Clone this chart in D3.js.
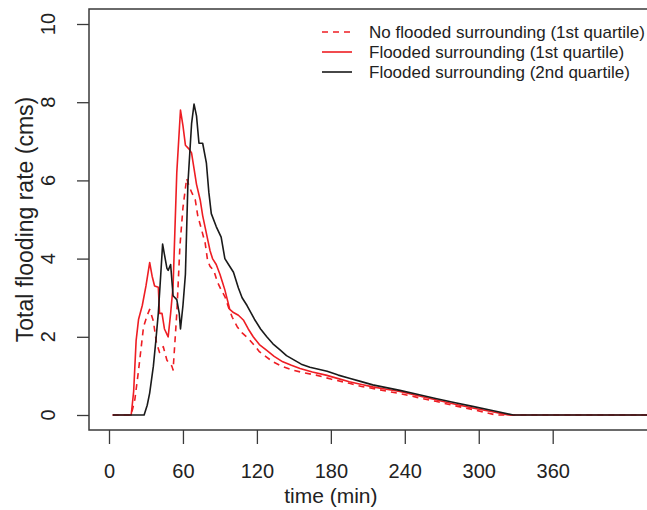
<!DOCTYPE html>
<html>
<head>
<meta charset="utf-8">
<script src="https://cdn.jsdelivr.net/npm/d3@7"></script>
<style>
  body { margin: 0; background: #fff; }
  text { font-family: "Liberation Sans", Arial, sans-serif; fill: #222; }
</style>
</head>
<body>
<div id="dataviz"></div>
<script>
// time (min), total flooding rate (cms)
const noFlooded1st = [
  [3,0],[18,0],[21,0.4],[24,1.15],[28,2.25],[31,2.55],[33,2.7],[36,2.4],[38.5,1.85],[41,1.6],
  [44,1.75],[47,1.4],[51,1.25],[52,1.15],[55,2.6],[57.5,4.3],[60,5.3],[62,5.8],[63,6.05],[65,5.85],
  [67,5.7],[70,5.5],[72,5.1],[75,4.75],[78,4.4],[80,3.95],[82,3.8],[85,3.7],[88,3.4],[91,3.2],
  [94,3.03],[97,2.75],[100,2.5],[104,2.26],[108,2.1],[113,1.96],[118,1.78],[122,1.62],[127,1.5],
  [133,1.36],[140,1.25],[149,1.15],[158,1.08],[168,1.02],[180,0.92],[195,0.81],[205,0.73],
  [214,0.68],[225,0.61],[236,0.55],[250,0.45],[265,0.35],[280,0.24],[295,0.14],[314,0],[460,0]
];
const flooded1st = [
  [3,0],[18,0],[20,0.6],[22,1.9],[24,2.45],[27,2.8],[30,3.3],[33,3.9],[35,3.55],[37,3.3],
  [40,3.27],[41,2.6],[43,2.6],[45,2.2],[48,2.0],[50,2.6],[52,3.3],[55,6.2],[58,7.8],[60,7.4],
  [62,6.9],[65,6.8],[67,6.7],[69,6.3],[71,5.9],[74,5.5],[76,5.1],[78,4.8],[80,4.5],[82,4.2],
  [84,4.0],[87,3.85],[90,3.6],[92,3.4],[94,3.2],[96,2.95],[98,2.7],[101,2.62],[105,2.55],
  [109,2.43],[113,2.2],[117,2.0],[122,1.8],[128,1.65],[134,1.5],[141,1.36],[148,1.27],[155,1.19],
  [165,1.1],[176,1.02],[186,0.93],[195,0.85],[205,0.78],[214,0.72],[225,0.66],[236,0.6],
  [250,0.5],[265,0.39],[280,0.28],[295,0.18],[310,0.09],[324,0],[460,0]
];
const flooded2nd = [
  [3,0],[28.5,0],[31,0.25],[33,0.56],[36,1.25],[38,1.9],[40,2.6],[42,3.6],[43.5,4.37],[45,4.1],
  [47,3.75],[48,3.7],[50,3.85],[52,3.05],[55,2.95],[57,2.6],[58,2.2],[60,2.8],[62,3.6],[64,5.9],
  [67,7.45],[69,7.95],[71,7.65],[73,6.95],[76,6.95],[79,6.45],[81,5.7],[83,5.15],[87,4.82],
  [91,4.55],[94,4.0],[97,3.85],[101,3.65],[105,3.25],[108,3.0],[112,2.8],[118,2.45],[123,2.2],
  [128,2.0],[133,1.82],[139,1.66],[144,1.52],[150,1.41],[156,1.3],[163,1.22],[170,1.17],
  [177,1.12],[186,1.02],[195,0.94],[204,0.86],[214,0.77],[225,0.7],[236,0.63],[250,0.53],
  [265,0.42],[280,0.32],[295,0.22],[310,0.12],[328,0],[460,0]
];

const xTicks = [0, 60, 120, 180, 240, 300, 360];
const yTicks = [0, 2, 4, 6, 8, 10];
const seriesNames = [
  "No flooded surrounding (1st quartile)",
  "Flooded surrounding (1st quartile)",
  "Flooded surrounding (2nd quartile)"
];
const seriesColors = ["#ee1d23", "#ee1d23", "#1a1a1a"];
const seriesDash = ["6,5", null, null];

const buildChart = () => {
  const width = 647, height = 510;
  const box = { left: 89, top: 9, right: 660, bottom: 430 };

  const svg = d3.select("#dataviz")
    .append("svg")
    .attr("width", width)
    .attr("height", height);

  const x = d3.scaleLinear().domain([0, 360]).range([109, 552.7]);
  const y = d3.scaleLinear().domain([0, 10]).range([415, 24]);

  svg.append("clipPath")
    .attr("id", "plotclip")
    .append("rect")
    .attr("x", box.left).attr("y", box.top)
    .attr("width", box.right - box.left).attr("height", box.bottom - box.top);

  const line = d3.line().x(d => x(d[0])).y(d => y(d[1]));
  const allSeries = [noFlooded1st, flooded1st, flooded2nd];

  svg.append("g")
    .attr("clip-path", "url(#plotclip)")
    .selectAll("path")
    .data(allSeries)
    .enter()
    .append("path")
    .attr("d", line)
    .attr("fill", "none")
    .attr("stroke", (d, i) => seriesColors[i])
    .attr("stroke-width", 1.6)
    .attr("stroke-dasharray", (d, i) => seriesDash[i])
    .attr("stroke-linejoin", "round");

  // plot frame
  svg.append("rect")
    .attr("x", box.left).attr("y", box.top)
    .attr("width", box.right - box.left).attr("height", box.bottom - box.top)
    .attr("fill", "none")
    .attr("stroke", "#3a3a3a")
    .attr("stroke-width", 1.5);

  // x axis
  const xAxis = svg.append("g")
    .attr("transform", `translate(0,${box.bottom})`)
    .call(d3.axisBottom(x).tickValues(xTicks).tickSize(14).tickPadding(34));
  xAxis.select(".domain").remove();
  xAxis.selectAll("line").attr("stroke", "#3a3a3a").attr("stroke-width", 1.3);
  xAxis.selectAll("text")
    .attr("font-size", "20px")
    .attr("font-family", "Liberation Sans, Arial, sans-serif")
    .attr("fill", "#222")
    .attr("dy", "0");

  // y axis, labels rotated like base R
  const yAxis = svg.append("g")
    .attr("transform", `translate(${box.left},0)`)
    .call(d3.axisLeft(y).tickValues(yTicks).tickSize(12));
  yAxis.select(".domain").remove();
  yAxis.selectAll("line").attr("stroke", "#3a3a3a").attr("stroke-width", 1.3);
  yAxis.selectAll("text").remove();
  svg.selectAll(".ylab")
    .data(yTicks)
    .enter()
    .append("text")
    .attr("class", "ylab")
    .attr("transform", d => `translate(55,${y(d)}) rotate(-90)`)
    .attr("text-anchor", "middle")
    .attr("font-size", "20px")
    .text(d => d);

  svg.append("text")
    .attr("x", (x(0) + x(360)) / 2)
    .attr("y", 503)
    .attr("text-anchor", "middle")
    .attr("font-size", "21px")
    .text("time (min)");

  svg.append("text")
    .attr("transform", `translate(33,${(box.top + box.bottom) / 2}) rotate(-90)`)
    .attr("text-anchor", "middle")
    .attr("font-size", "23px")
    .text("Total flooding rate (cms)");

  // legend
  const legend = svg.append("g").attr("id", "legend");
  const rows = legend.selectAll("g")
    .data(seriesNames)
    .enter()
    .append("g")
    .attr("transform", (d, i) => `translate(322,${32 + i * 20})`);
  rows.append("line")
    .attr("x1", 0).attr("x2", 30)
    .attr("stroke", (d, i) => seriesColors[i])
    .attr("stroke-width", 1.6)
    .attr("stroke-dasharray", (d, i) => seriesDash[i]);
  rows.append("text")
    .attr("x", 47)
    .attr("y", 6)
    .attr("font-size", "17px")
    .text(d => d);
};

document.addEventListener("DOMContentLoaded", buildChart);
</script>
</body>
</html>
